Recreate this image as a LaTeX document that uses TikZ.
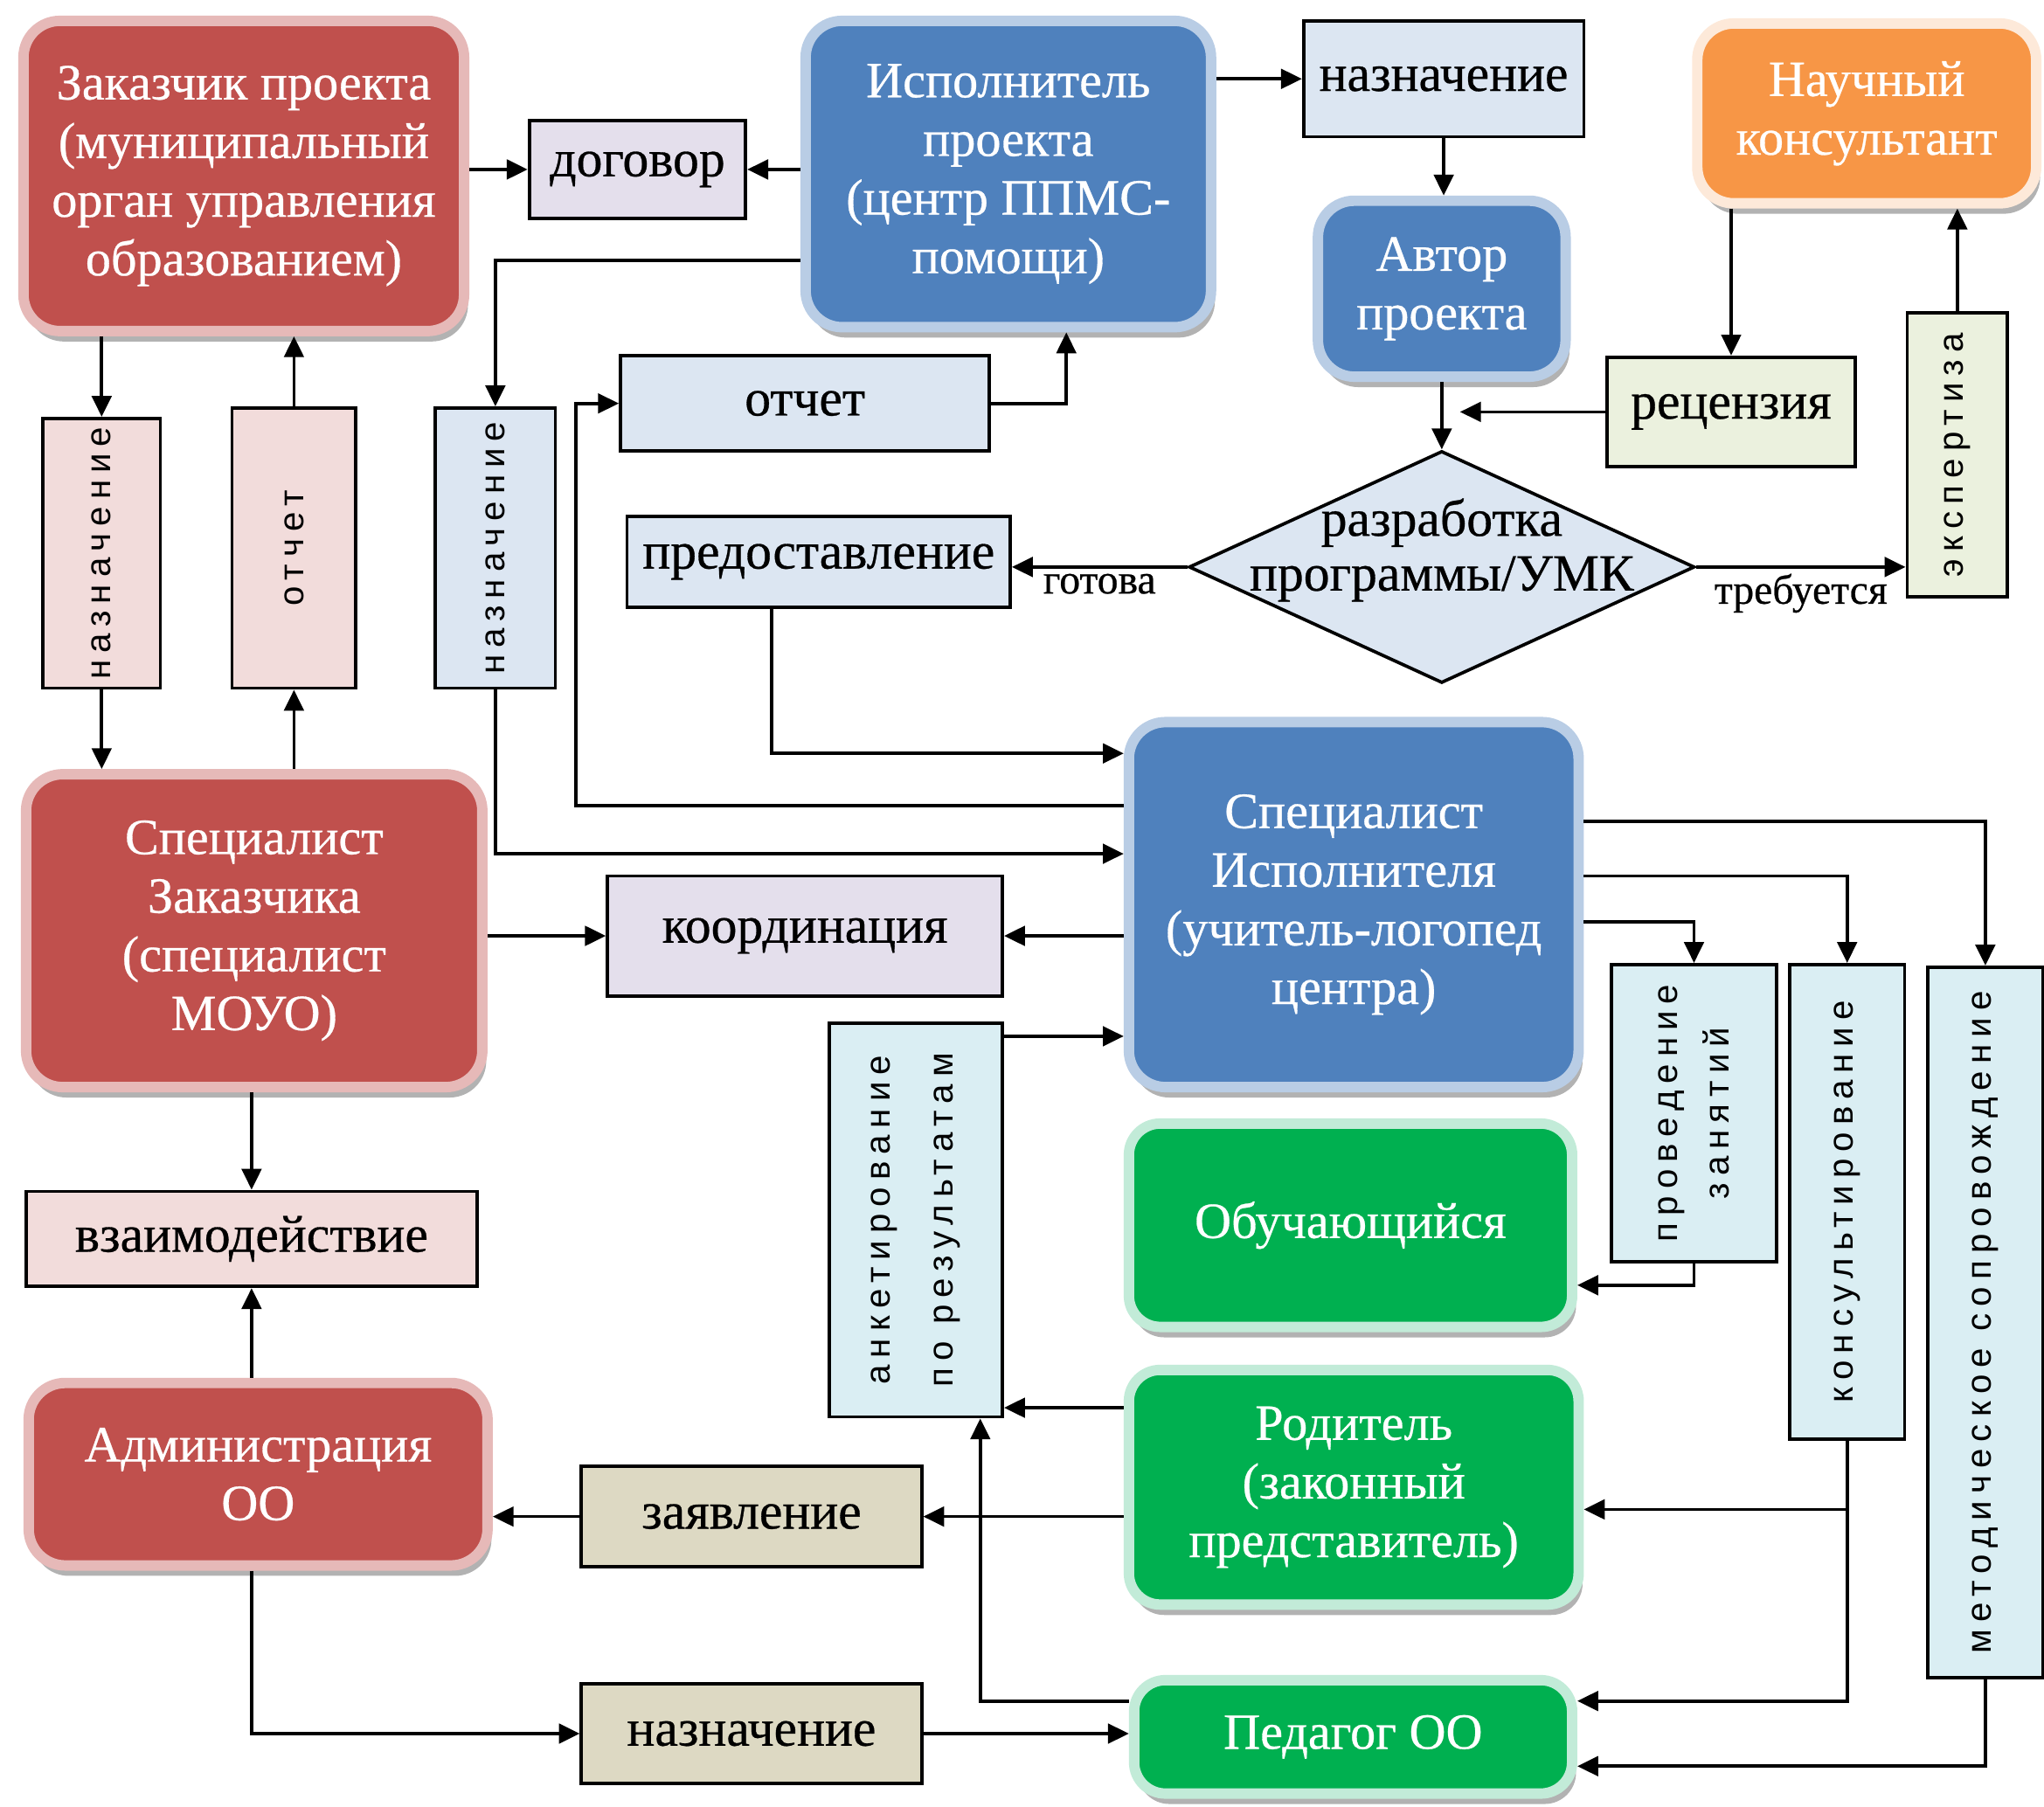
\documentclass[tikz,border=0pt]{standalone}
\usepackage{fontspec}
\setmainfont[FakeBold=0.5]{Liberation Serif}
\newfontfamily\vertfont[LetterSpace=20]{Liberation Sans}
\usepackage{tikz}
\usetikzlibrary{arrows.meta,shapes,calc,shadows}

\definecolor{redfill}{HTML}{C0504D}
\definecolor{redrim}{HTML}{E6B9B8}
\definecolor{bluefill}{HTML}{4F81BD}
\definecolor{bluerim}{HTML}{B9CDE5}
\definecolor{orangefill}{HTML}{F79646}
\definecolor{orangerim}{HTML}{FDE9D9}
\definecolor{greenfill}{HTML}{00B050}
\definecolor{greenrim}{HTML}{C2EBD8}
\definecolor{lilac}{HTML}{E4DFEC}
\definecolor{paleblue}{HTML}{DCE6F2}
\definecolor{palepink}{HTML}{F2DCDB}
\definecolor{palegreen}{HTML}{EBF1DE}
\definecolor{palecyan}{HTML}{DAEEF3}
\definecolor{paletan}{HTML}{DDD9C3}

\newcommand\actorfont{\fontsize{39bp}{45bp}\selectfont}
\newcommand\tagfont{\fontsize{40bp}{42bp}\selectfont}
\newcommand\notefont{\fontsize{32bp}{34bp}\selectfont}
\newcommand\vtagfont{\vertfont\fontsize{27bp}{40bp}\selectfont}

\tikzset{
  >={Triangle[length=16bp,width=15bp]},
  actor/.style={rounded corners=28bp,line width=8bp,text=white,align=center,inner sep=0,font=\actorfont,
    drop shadow={shadow xshift=3bp,shadow yshift=-8bp,opacity=.3,fill=black}},
  redactor/.style={actor,fill=redfill,draw=redrim},
  blueactor/.style={actor,fill=bluefill,draw=bluerim},
  orangeactor/.style={actor,fill=orangefill,draw=orangerim},
  greenactor/.style={actor,fill=greenfill,draw=greenrim,rounded corners=24bp},
  tag/.style={draw,line width=2.5bp,inner sep=0,align=center,font=\tagfont},
  vtag/.style={tag,rotate=90,font=\vtagfont},
  note/.style={font=\notefont,inner sep=4bp}
}

\begin{document}
\begin{tikzpicture}[line width=2.5bp]
\useasboundingbox (0bp,0bp) rectangle (1568bp,-1386bp);

\node (zak) at (187bp,-135bp)[redactor,minimum width=338bp,minimum height=238bp] {Заказчик проекта\\(муниципальный\\орган управления\\образованием)};
\node (isp) at (773.5bp,-133.5bp)[blueactor,minimum width=311bp,minimum height=235bp] {Исполнитель\\проекта\\(центр ППМС-\\помощи)};
\node (avt) at (1106bp,-221.5bp)[blueactor,minimum width=190bp,minimum height=135bp] {Автор\\проекта};
\node (nauch) at (1432bp,-87bp)[orangeactor,minimum width=260bp,minimum height=138bp] {Научный\\консультант};
\node (spz) at (195bp,-714bp)[redactor,minimum width=350bp,minimum height=240bp] {Специалист\\Заказчика\\(специалист\\МОУО)};
\node (spi) at (1038.5bp,-694bp)[blueactor,minimum width=345bp,minimum height=280bp] {Специалист\\Исполнителя\\(учитель-логопед\\центра)};
\node (obuch) at (1036bp,-940bp)[greenactor,minimum width=340bp,minimum height=156bp] {Обучающийся};
\node (rod) at (1038.5bp,-1141bp)[greenactor,minimum width=345bp,minimum height=180bp] {Родитель\\(законный\\представитель)};
\node (ped) at (1038bp,-1332.5bp)[greenactor,minimum width=336bp,minimum height=87bp] {Педагог ОО};
\node (adm) at (198bp,-1131bp)[redactor,minimum width=352bp,minimum height=140bp] {Администрация\\ОО};

\node (razr) at (1106bp,-435bp)[draw,diamond,fill=paleblue,line width=2.5bp,inner sep=0,minimum width=388bp,minimum height=178bp,
  label={[align=center,font=\tagfont,yshift=13bp]center:разработка\\программы/УМК}] {};

\node (dog) at (489bp,-130bp)[tag,fill=lilac,minimum width=166bp,minimum height=75bp] {договор};
\node (nazT) at (1107.5bp,-60.5bp)[tag,fill=paleblue,minimum width=215bp,minimum height=89bp] {назначение};
\node (rec) at (1328bp,-316bp)[tag,fill=palegreen,minimum width=190bp,minimum height=84bp] {рецензия};
\node (otchT) at (617.5bp,-309.5bp)[tag,fill=paleblue,minimum width=283bp,minimum height=73bp] {отчет};
\node (pred) at (628bp,-431bp)[tag,fill=paleblue,minimum width=294bp,minimum height=70bp] {предоставление};
\node (koord) at (617.5bp,-718bp)[tag,fill=lilac,minimum width=303bp,minimum height=92bp] {координация};
\node (vzai) at (193bp,-950.5bp)[tag,fill=palepink,minimum width=346bp,minimum height=73bp] {взаимодействие};
\node (zayv) at (576.5bp,-1163.5bp)[tag,fill=paletan,minimum width=261bp,minimum height=77bp] {заявление};
\node (nazB) at (576.5bp,-1330bp)[tag,fill=paletan,minimum width=261bp,minimum height=76bp] {назначение};

\node (naz1) at (78bp,-424.5bp)[vtag,fill=palepink,minimum width=207bp,minimum height=90bp] {назначение};
\node (otch1) at (225.5bp,-420.5bp)[vtag,fill=palepink,minimum width=215bp,minimum height=95bp] {отчет};
\node (naz2) at (380bp,-420.5bp)[vtag,fill=paleblue,minimum width=215bp,minimum height=92bp] {назначение};
\node (eksp) at (1501.5bp,-349bp)[vtag,fill=palegreen,minimum width=218bp,minimum height=77bp] {экспертиза};
\node (prov) at (1299.5bp,-854bp)[vtag,fill=palecyan,minimum width=228bp,minimum height=127bp] {проведение\\занятий};
\node (kons) at (1417bp,-922bp)[vtag,fill=palecyan,minimum width=364bp,minimum height=88bp] {консультирование};
\node (met) at (1523bp,-1014.5bp)[vtag,fill=palecyan,minimum width=545bp,minimum height=88bp] {методическое сопровождение};
\node (ankt) at (702.5bp,-936bp)[vtag,fill=palecyan,minimum width=302bp,minimum height=133bp] {анкетирование\\[8bp]по результатам};

\draw [->] (zak.east |- dog) -- (dog);
\draw [->] (isp.west |- dog) -- (dog);
\draw [->] (isp.east |- nazT) -- (nazT);
\draw [->] (nazT) -- (nazT |- avt.north);
\draw [->] (nauch.south -| rec) -- (rec);
\draw [->] (eksp) -- (eksp |- nauch.south);
\draw [->] (avt) -- (razr);
\draw [->] (rec) -- ($(rec -| avt)+(14bp,0)$);
\draw [->] (razr) -- (razr -| pred.east) node[midway,below,note] {готова};
\draw [->] (razr.east) -- (razr.east -| eksp.north) node[midway,below,note] {требуется};
\draw [->] ($(pred.south)+(-36bp,0)$) |- ($(spi.west)+(0,116bp)$);
\draw [->] (otchT) -| ($(isp.south)+(44.5bp,0)$);
\draw [->] ($(spi.west)+(0,76bp)$) -| ($(otchT.west)+(-33bp,0)$) -- (otchT);
\draw [->] (zak.south -| naz1) -- (naz1);
\draw [->] (naz1) -- (naz1 |- spz.north);
\draw [->] (spz.north -| otch1) -- (otch1);
\draw [->] (otch1) -- (otch1 |- zak.south);
\draw [->] ($(isp.west)+(0,-66.5bp)$) -| (naz2);
\draw [->] (naz2) |- ($(spi.west)+(0,39bp)$);
\draw [->] (spz.east |- koord) -- (koord);
\draw [->] (spi.west |- koord) -- (koord);
\draw [->] ($(spi.east)+(0,64bp)$) -| (met);
\draw [->] ($(spi.east)+(0,22bp)$) -| (kons);
\draw [->] ($(spi.east)+(0,-13bp)$) -| (prov);
\draw [->] (prov) |- ($(obuch.east)+(0,-46bp)$);
\draw [->] (kons) |- ($(rod.east)+(0,-17bp)$);
\draw [->] (kons) |- ($(ped.east)+(0,27.5bp)$);
\draw [->] (met) |- ($(ped.east)+(0,-22.5bp)$);
\draw [->] ($(ankt.south)+(0,141bp)$) -- ($(spi.west)+(0,-101bp)$);
\draw [->] ($(rod.west)+(0,61bp)$) -- ($(ankt.south)+(0,-144bp)$);
\draw [->] (rod.west |- zayv) -- (zayv);
\draw [->] (zayv) -- (zayv -| adm.east);
\draw [->] ($(ped.west)+(0,27.5bp)$) -| ($(ankt.west)+(49.5bp,0)$);
\draw [->] (spz.south -| vzai) -- (vzai);
\draw [->] (adm.north -| vzai) -- (vzai);
\draw [->] (adm.south -| vzai) |- (nazB);
\draw [->] (nazB) -- (nazB -| ped.west);
\end{tikzpicture}
\end{document}
